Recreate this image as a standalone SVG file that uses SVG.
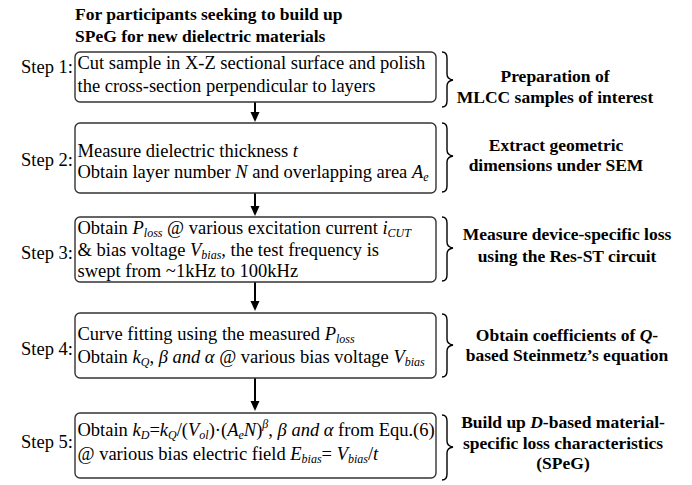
<svg xmlns="http://www.w3.org/2000/svg" width="692" height="485" viewBox="0 0 692 485" font-family="'Liberation Serif', Tinos, 'Times New Roman', 'DejaVu Serif', serif">
  <style>
    text { font-family: "Liberation Serif", Tinos, "Times New Roman", "DejaVu Serif", serif; fill: #000; }
    .title { font-size: 17.5px; font-weight: bold; }
    .body { font-size: 18.5px; }
    .step { font-size: 18.5px; }
    .label { font-size: 17.5px; font-weight: bold; text-anchor: middle; }
    .box { fill: #fff; stroke: #333; stroke-width: 1.4; }
    .brace { fill: none; stroke: #000; stroke-width: 1.4; }
    .arrow { stroke: #000; stroke-width: 2; }
    .it { font-style: italic; }
    .sub { font-size: 12px; font-style: italic; }
  </style>

  <!-- heading -->
  <g id="heading">
    <text class="title" x="75" y="20">For participants seeking to build up</text>
    <text class="title" x="75" y="42">SPeG for new dielectric materials</text>
  </g>

  <!-- connectors between steps -->
  <g id="connectors">
    <line class="arrow" x1="255" y1="102" x2="255" y2="113"/>
    <path d="M250.5,112 L259.5,112 L255,122 Z"/>
    <line class="arrow" x1="255" y1="193" x2="255" y2="207"/>
    <path d="M250.5,206 L259.5,206 L255,216 Z"/>
    <line class="arrow" x1="255" y1="282" x2="255" y2="302"/>
    <path d="M250.5,301 L259.5,301 L255,311 Z"/>
    <line class="arrow" x1="255" y1="378" x2="255" y2="402"/>
    <path d="M250.5,401 L259.5,401 L255,411 Z"/>
  </g>

  <!-- step 1 -->
  <g id="step1">
    <text class="step" x="21" y="73">Step 1:</text>
    <rect class="box" x="75" y="52" width="361" height="50" rx="5"/>
    <text class="body" x="77.5" y="69">Cut sample in X-Z sectional surface and polish</text>
    <text class="body" x="77.5" y="92">the cross-section perpendicular to layers</text>
    <path class="brace" d="M442,52 Q447,52 447,58 L447,74 Q447,79 453,80 Q447,81 447,86 L447,101 Q447,107 442,107"/>
    <text class="label" x="555" y="82">Preparation of</text>
    <text class="label" x="555" y="103">MLCC samples of interest</text>
  </g>

  <!-- step 2 -->
  <g id="step2">
    <text class="step" x="21" y="166">Step 2:</text>
    <rect class="box" x="75" y="123" width="361" height="70" rx="5"/>
    <text class="body" x="77.5" y="157">Measure dielectric thickness <tspan class="it">t</tspan></text>
    <text class="body" x="77.5" y="178">Obtain layer number <tspan class="it">N</tspan> and overlapping area <tspan class="it">A</tspan><tspan class="sub" dy="3">e</tspan></text>
    <path class="brace" d="M442,123 Q447,123 447,129 L447,150 Q447,155 453,156 Q447,157 447,162 L447,186 Q447,192 442,192"/>
    <text class="label" x="556" y="151">Extract geometric</text>
    <text class="label" x="556" y="171">dimensions under SEM</text>
  </g>

  <!-- step 3 -->
  <g id="step3">
    <text class="step" x="21" y="259">Step 3:</text>
    <rect class="box" x="75" y="217" width="361" height="65" rx="5"/>
    <text class="body" x="77.5" y="234">Obtain <tspan class="it">P</tspan><tspan class="sub" dy="3">loss</tspan><tspan dy="-3"> @ various excitation current </tspan><tspan class="it">i</tspan><tspan class="sub" dy="3">CUT</tspan></text>
    <text class="body" x="77.5" y="256">&amp; bias voltage <tspan class="it">V</tspan><tspan class="sub" dy="3">bias</tspan><tspan dy="-3">, the test frequency is</tspan></text>
    <text class="body" x="77.5" y="277">swept from ~1kHz to 100kHz</text>
    <path class="brace" d="M442,217 Q447,217 447,223 L447,242 Q447,247 453,248 Q447,249 447,254 L447,275 Q447,281 442,281"/>
    <text class="label" x="567" y="240">Measure device-specific loss</text>
    <text class="label" x="567" y="262">using the Res-ST circuit</text>
  </g>

  <!-- step 4 -->
  <g id="step4">
    <text class="step" x="21" y="355">Step 4:</text>
    <rect class="box" x="75" y="313" width="361" height="65" rx="5"/>
    <text class="body" x="77.5" y="340">Curve fitting using the measured <tspan class="it">P</tspan><tspan class="sub" dy="3">loss</tspan></text>
    <text class="body" x="77.5" y="363">Obtain <tspan class="it">k</tspan><tspan class="sub" dy="3">Q</tspan><tspan dy="-3">, </tspan><tspan class="it">β and α</tspan> @ various bias voltage <tspan class="it">V</tspan><tspan class="sub" dy="3">bias</tspan></text>
    <path class="brace" d="M442,314 Q447,314 447,320 L447,339 Q447,344 453,345 Q447,346 447,351 L447,371 Q447,377 442,377"/>
    <text class="label" x="567" y="341">Obtain coefficients of <tspan class="it">Q</tspan>-</text>
    <text class="label" x="567" y="361">based Steinmetz’s equation</text>
  </g>

  <!-- step 5 -->
  <g id="step5">
    <text class="step" x="21" y="448">Step 5:</text>
    <rect class="box" x="75" y="413" width="361" height="65" rx="5"/>
    <text class="body" x="77.5" y="436">Obtain <tspan class="it">k</tspan><tspan class="sub" dy="3">D</tspan><tspan dy="-3">=</tspan><tspan class="it">k</tspan><tspan class="sub" dy="3">Q</tspan><tspan dy="-3">/(</tspan><tspan class="it">V</tspan><tspan class="sub" dy="3">ol</tspan><tspan dy="-3">)·(</tspan><tspan class="it">A</tspan><tspan class="sub" dy="3">e</tspan><tspan class="it" dy="-3">N</tspan>)<tspan class="sub" dy="-8">β</tspan><tspan dy="8">, </tspan><tspan class="it">β and α</tspan> from Equ.(6)</text>
    <text class="body" x="77.5" y="460">@ various bias electric field <tspan class="it">E</tspan><tspan class="sub" dy="3">bias</tspan><tspan dy="-3">= </tspan><tspan class="it">V</tspan><tspan class="sub" dy="3">bias</tspan><tspan dy="-3">/</tspan><tspan class="it">t</tspan></text>
    <path class="brace" d="M442,415 Q447,415 447,421 L447,441 Q447,446 453,447 Q447,448 447,453 L447,474 Q447,480 442,480"/>
    <text class="label" x="563" y="428">Build up <tspan class="it">D</tspan>-based material-</text>
    <text class="label" x="563" y="449">specific loss characteristics</text>
    <text class="label" x="563" y="469">(SPeG)</text>
  </g>
</svg>
